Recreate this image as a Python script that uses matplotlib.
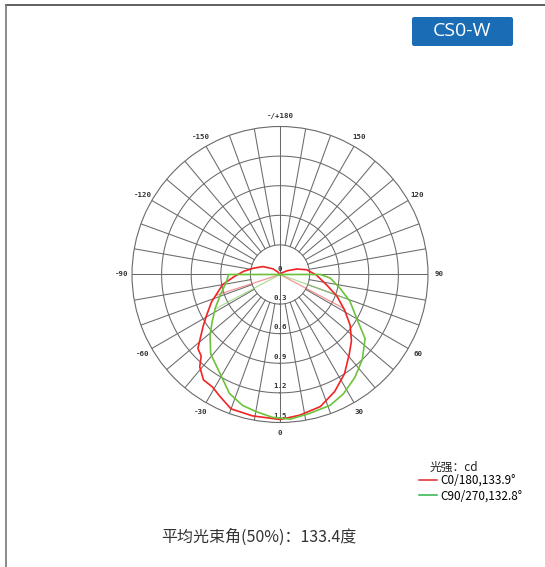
import numpy as np
import matplotlib.pyplot as plt
from matplotlib.lines import Line2D
from matplotlib.patches import FancyBboxPatch

plt.rcParams['font.family'] = ['Noto Sans CJK SC', 'DejaVu Sans']

# C0/180 curve (angle in degrees, 0 = straight down, relative intensity)
red_deg = [-180, -140, -129, -115, -103, -95, -87, -80, -73, -68, -61, -56, -48, -44,
           -41, -36, -31, -26, -20, -11, 0, 8, 17, 25, 33, 41, 47, 54, 61, 69, 77, 89,
           100, 108, 118, 135, 180]
red_val = [0, 0.03, 0.09, 0.19, 0.28, 0.37, 0.47, 0.59, 0.67, 0.75, 0.85, 0.94, 1.12, 1.15,
           1.24, 1.32, 1.33, 1.38, 1.45, 1.46, 1.47, 1.44, 1.40, 1.31, 1.20, 1.07, 0.99, 0.88,
           0.75, 0.62, 0.49, 0.37, 0.275, 0.18, 0.08, 0.02, 0]

# C90/270 curve
green_deg = [-180, -90, -90, -82, -71, -62.5, -55, -49, -41, -33, -30, -23, -16, -10, -3,
             4, 12, 21, 28, 36, 44, 53, 60, 69, 77, 86, 90, 90, 180]
green_val = [0, 0, 0.52, 0.55, 0.64, 0.74, 0.84, 0.94, 1.07, 1.15, 1.19, 1.31, 1.38, 1.41, 1.45,
             1.47, 1.44, 1.42, 1.37, 1.29, 1.20, 1.08, 0.90, 0.76, 0.625, 0.51, 0.41, 0, 0]

# half-intensity beam edges
red_beam = [-72, 62]
green_beam = [-62, 70]

ring_values = [0.3, 0.6, 0.9, 1.2, 1.5]
radial_labels = ['0', '0.3', '0.6', '0.9', '1.2', '1.5']
angle_ticks = [0, 30, 60, 90, 120, 150, 180, -150, -120, -90, -60, -30]
angle_labels = ['0', '30', '60', '90', '120', '150', '-/+180', '-150', '-120', '-90', '-60', '-30']

legend_labels = ['C0/180,133.9°', 'C90/270,132.8°']
legend_title = '光强：cd'
avg_text = '平均光束角(50%)：133.4度'
model = 'CS0-W'

red = '#f02424'
green = '#6cc23a'
grid_c = '#6a6a6a'

fig = plt.figure(figsize=(5.45, 5.67), dpi=100)
ax = fig.add_axes([0.2422, 0.2549, 0.5431, 0.5220], projection='polar')
ax.set_theta_zero_location('S')
ax.set_theta_direction(1)
ax.set_ylim(0, 1.5)
ax.grid(False)
ax.set_xticks([])
ax.set_yticks([])
ax.spines['polar'].set_color(grid_c)
ax.spines['polar'].set_linewidth(0.8)

# grid: rings + spokes
t = np.linspace(0, 2 * np.pi, 361)
for v in ring_values[:-1]:
    ax.plot(t, np.full_like(t, v), color=grid_c, lw=0.75, zorder=1)
for d in range(0, 360, 10):
    r0 = 0 if d % 90 == 0 else ring_values[0]
    ax.plot([np.deg2rad(d)] * 2, [r0, 1.5], color=grid_c, lw=0.75, zorder=1)

# labels
mono = dict(family='DejaVu Sans Mono', fontweight='bold', fontsize=5.3, color='#333333',
            ha='center', va='center')
for d, lab in zip(angle_ticks, angle_labels):
    ax.text(np.deg2rad(d), 1.61, lab, **mono)
ax.text(np.pi, 0.06, radial_labels[0], **mono)
for v, lab in zip(ring_values, radial_labels[1:]):
    ax.text(0, v - 0.065, lab, **mono)

# curves
ax.plot(np.deg2rad(red_deg), red_val, color=red, lw=1.2, zorder=3)
ax.plot(np.deg2rad(green_deg), green_val, color=green, lw=1.2, zorder=3)

# beam lines
for d in red_beam:
    ax.plot([0, np.deg2rad(d)], [0, np.interp(d, red_deg, red_val)],
            color='#e85050', lw=0.9, alpha=0.6, zorder=2)
for d in green_beam:
    ax.plot([0, np.deg2rad(d)], [0, np.interp(d, green_deg, green_val)],
            color='#8fd070', lw=0.9, alpha=0.7, zorder=2)

# legend
fig.text(430 / 545, 1 - 467 / 567, legend_title, fontsize=8.5, color='#222222', va='center')
handles = [Line2D([], [], color='#e02a2a', lw=1.1), Line2D([], [], color='#2db34a', lw=1.1)]
fig.legend(handles, legend_labels, loc='upper left', bbox_to_anchor=(419 / 545, 1 - 474 / 567),
           frameon=False, fontsize=8.5, handlelength=1.5, handletextpad=0.35,
           labelspacing=0.2, borderpad=0, borderaxespad=0)

fig.text(259 / 545, 1 - 537 / 567, avg_text, fontsize=11.5, color='#333333',
         ha='center', va='center')

# model tag top right
box = FancyBboxPatch((412 / 545, 1 - 46 / 567), 101 / 545, 29 / 567,
                     boxstyle='round,pad=0,rounding_size=0.004', transform=fig.transFigure,
                     facecolor='#1a6cb4', edgecolor='none')
fig.add_artist(box)
fig.text(462.5 / 545, 1 - 31.5 / 567, model, fontsize=14, color='white',
         ha='center', va='center', family='Open Sans')

# frame lines
fig.add_artist(Line2D([6 / 545, 1], [1 - 5 / 567] * 2, color='#444444', lw=1.2,
                      transform=fig.transFigure))
fig.add_artist(Line2D([6 / 545] * 2, [0, 1 - 5 / 567], color='#777777', lw=1.2,
                      transform=fig.transFigure))

fig.savefig('out.png', dpi=100)
